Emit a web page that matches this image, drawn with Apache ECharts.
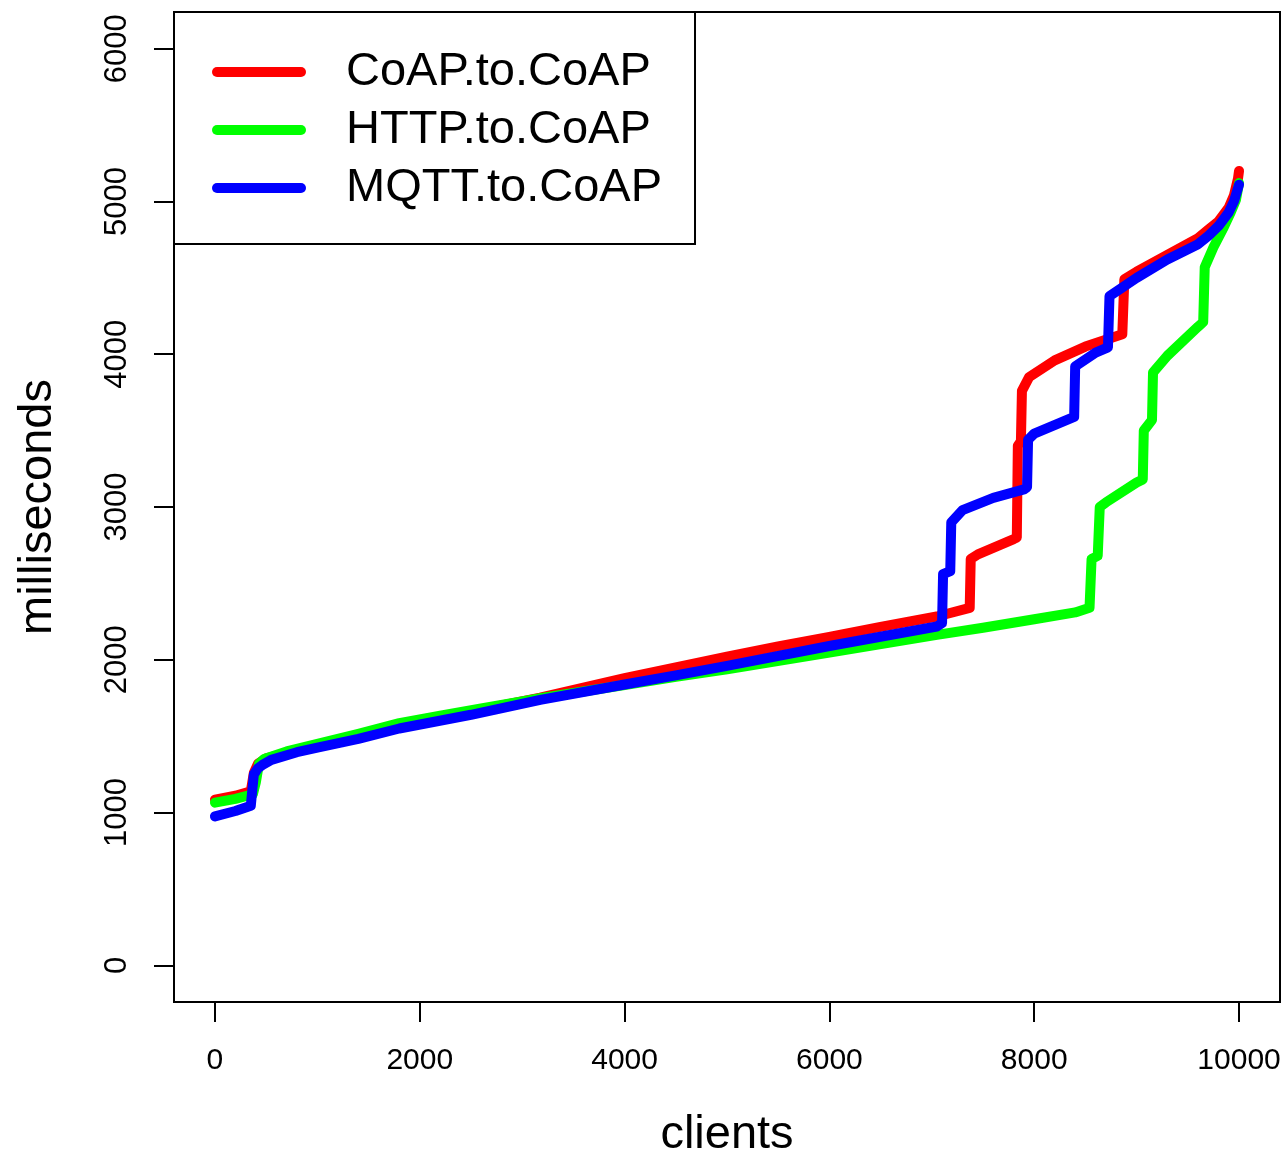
<!DOCTYPE html>
<html>
<head>
<meta charset="utf-8">
<script src="https://cdn.jsdelivr.net/npm/echarts@6/dist/echarts.min.js"></script>
<style>html,body{margin:0;padding:0;background:#fff}#c{width:1288px;height:1156px}</style>
</head>
<body>
<div id="c"></div>
<script>
var seriesNames = ['CoAP.to.CoAP', 'HTTP.to.CoAP', 'MQTT.to.CoAP'];
var xTicks = [0, 2000, 4000, 6000, 8000, 10000];
var yTicks = [0, 1000, 2000, 3000, 4000, 5000, 6000];

var coapData = [[0,1085],[200,1110],[350,1140],[380,1260],[420,1320],[500,1355],[800,1405],[1000,1435],[1400,1495],[1810,1565],[2500,1660],[3176,1752],[4000,1880],[4500,1950],[5000,2020],[5500,2088],[6000,2150],[6500,2215],[7049,2283],[7370,2340],[7380,2660],[7450,2690],[7800,2790],[7830,2800],[7840,3400],[7870,3430],[7880,3760],[7950,3850],[8200,3960],[8500,4050],[8860,4130],[8880,4490],[9000,4540],[9300,4650],[9600,4760],[9700,4815],[9800,4870],[9900,4960],[9950,5040],[9990,5150],[10000,5200]];
var httpData = [[0,1065],[200,1090],[370,1120],[400,1200],[430,1320],[480,1350],[700,1400],[1000,1450],[1400,1515],[1800,1585],[2200,1635],[2600,1682],[3176,1748],[4000,1835],[4500,1888],[5000,1937],[6000,2048],[7049,2163],[7500,2210],[8000,2265],[8400,2310],[8540,2340],[8560,2660],[8620,2680],[8640,3000],[8700,3030],[9000,3160],[9060,3180],[9070,3500],[9150,3570],[9160,3880],[9300,3990],[9600,4180],[9650,4210],[9665,4570],[9750,4700],[9850,4830],[9920,4930],[9970,5010],[10000,5120]];
var mqttData = [[0,975],[200,1010],[350,1045],[365,1150],[380,1250],[420,1290],[460,1310],[550,1345],[800,1395],[1000,1425],[1400,1482],[1800,1550],[2500,1640],[3176,1738],[4000,1838],[4500,1898],[5000,1960],[6000,2090],[7049,2218],[7100,2240],[7110,2560],[7180,2580],[7190,2900],[7300,2980],[7600,3060],[7900,3115],[7930,3130],[7940,3440],[8000,3480],[8390,3590],[8400,3920],[8600,4010],[8720,4045],[8735,4380],[9000,4500],[9300,4620],[9600,4720],[9700,4775],[9800,4840],[9900,4930],[9950,5000],[10000,5110]];
var seriesColors = ['#ff0000', '#00ff00', '#0000ff'];

var chart = echarts.init(document.getElementById('c'), null, {renderer: 'canvas'});
var font = 'Liberation Sans, Arial, Helvetica, sans-serif';
var allData = [coapData, httpData, mqttData];
function plain(v) { return String(v); }
var option = {
  animation: false,
  backgroundColor: '#fff',
  grid: {left: 174, top: 12, width: 1106, height: 990, show: true, borderColor: '#000', borderWidth: 2,
         backgroundColor: 'transparent', containLabel: false, outerBoundsMode: 'none'},
  xAxis: {
    type: 'value', min: -400, max: 10400,
    name: 'clients', nameLocation: 'middle', nameGap: 110,
    nameTextStyle: {fontFamily: font, fontSize: 47, color: '#000'},
    axisLine: {show: false, onZero: false},
    splitLine: {show: false},
    axisTick: {show: true, length: 20, inside: false, customValues: xTicks, lineStyle: {color: '#000', width: 2}},
    axisLabel: {customValues: xTicks, formatter: plain, margin: 44, fontFamily: font, fontSize: 30, color: '#000'}
  },
  yAxis: {
    type: 'value', min: -240, max: 6240,
    name: 'milliseconds', nameLocation: 'middle', nameGap: 112,
    nameTextStyle: {fontFamily: font, fontSize: 47, color: '#000'},
    axisLine: {show: false, onZero: false},
    splitLine: {show: false},
    axisTick: {show: true, length: 20, inside: false, customValues: yTicks, lineStyle: {color: '#000', width: 2}},
    axisLabel: {customValues: yTicks, formatter: plain, rotate: 90, margin: 41, fontFamily: font, fontSize: 31, color: '#000'}
  },
  legend: {
    orient: 'vertical', left: 174, top: 12,
    padding: [36, 33, 32, 38],
    itemWidth: 94, itemHeight: 10, itemGap: 10,
    icon: 'path://M5,0 L89,0 A5,5 0 0 1 89,10 L5,10 A5,5 0 0 1 5,0 Z',
    borderColor: '#000', borderWidth: 2, backgroundColor: '#fff',
    textStyle: {fontFamily: font, fontSize: 47, lineHeight: 48, color: '#000', padding: [0, 0, 0, 35]},
    data: seriesNames
  },
  series: seriesNames.map(function (n, i) {
    return {
      name: n, type: 'line', data: allData[i], showSymbol: false, symbol: 'none',
      color: seriesColors[i],
      lineStyle: {width: 10, color: seriesColors[i], cap: 'round', join: 'round'},
      z: 2 + i
    };
  })
};
chart.setOption(option);
</script>
</body>
</html>
